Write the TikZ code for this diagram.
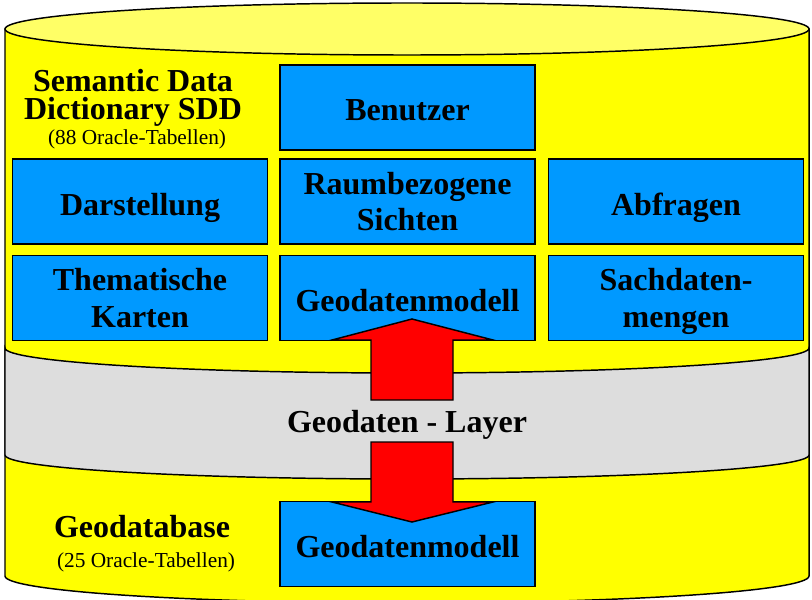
\documentclass[tikz,border=0pt]{standalone}
\usepackage{fontspec}
\setmainfont{Liberation Serif}

\definecolor{dbYellow}{RGB}{255,255,0}
\definecolor{lidYellow}{RGB}{255,255,102}
\definecolor{layerGray}{RGB}{221,221,221}
\definecolor{tabBlue}{RGB}{0,153,255}
\definecolor{flowRed}{RGB}{255,0,0}

\tikzset{every picture/.style={line width=1.1pt}}
\tikzset{
  tabfill/.style={draw, fill=tabBlue, minimum width=191.25pt, minimum height=63.75pt, inner sep=0pt, align=center, font=\bfseries\fontsize{24}{27.5}\selectfont},
  tabbox/.style={tabfill, text height=20.25pt, text depth=0pt},
  tabboxtwo/.style={tabfill, text depth=0pt},
  bigtext/.style={inner sep=0pt, align=center, font=\bfseries\fontsize{24}{21}\selectfont},
  smalltext/.style={inner sep=0pt, align=center, font=\fontsize{16}{19}\selectfont}
}

\begin{document}
\begin{tikzpicture}[x=0.75pt,y=0.75pt,yscale=-1,xscale=1]
\useasboundingbox (0,0) rectangle (812,599);

%Shape: Cylinder body
\draw [fill=dbYellow] (5,29) -- (5,576) arc [start angle=180, end angle=0, x radius=402, y radius=27] -- (809,29) -- cycle ;
%Shape: Cylinder lid
\draw [fill=lidYellow] (407,29) ellipse [x radius=402, y radius=26] ;
%Shape: Layer band
\draw [fill=layerGray] (5,348) arc [start angle=180, end angle=0, x radius=402, y radius=25] -- (809,455) arc [start angle=0, end angle=180, x radius=402, y radius=24] -- cycle ;

% Text Node
\draw (133,98) node [bigtext] (sdd) {Semantic Data\\Dictionary SDD};
% Text Node
\draw (137,144) node [anchor=base, smalltext] (sddcount) {(88 Oracle-Tabellen)};

% Tables
\draw (407.5,107.5) node [tabbox] (benutzer) {Benutzer};
\draw (140,201.5) node [tabbox] (darstellung) {Darstellung};
\draw (407.5,201.5) node [tabboxtwo] (sichten) {Raumbezogene\\Sichten};
\draw (676,201.5) node [tabbox] (abfragen) {Abfragen};
\draw (140,298) node [tabboxtwo] (karten) {Thematische\\Karten};
\draw (407.5,298) node [tabbox] (modell) {Geodatenmodell};
\draw (676,298) node [tabboxtwo] (sachdaten) {Sachdaten-\\mengen};
\draw (407.5,544) node [tabbox] (geomodell) {Geodatenmodell};

% Text Node
\draw (407,432) node [anchor=base, bigtext] (layer) {Geodaten - Layer};
% Text Node
\draw (142,537) node [anchor=base, bigtext] (geodb) {Geodatabase};
% Text Node
\draw (146,567) node [anchor=base, smalltext] (geodbcount) {(25 Oracle-Tabellen)};

%Shape: Up Arrow
\draw [fill=flowRed] (371,400) -- (371,340) -- (332,340) -- (412,319) -- (493,340) -- (453,340) -- (453,400) -- cycle ;
%Shape: Down Arrow
\draw [fill=flowRed] (371,442) -- (371,502) -- (332,502) -- (412,522) -- (493,502) -- (453,502) -- (453,442) -- cycle ;

\end{tikzpicture}
\end{document}
